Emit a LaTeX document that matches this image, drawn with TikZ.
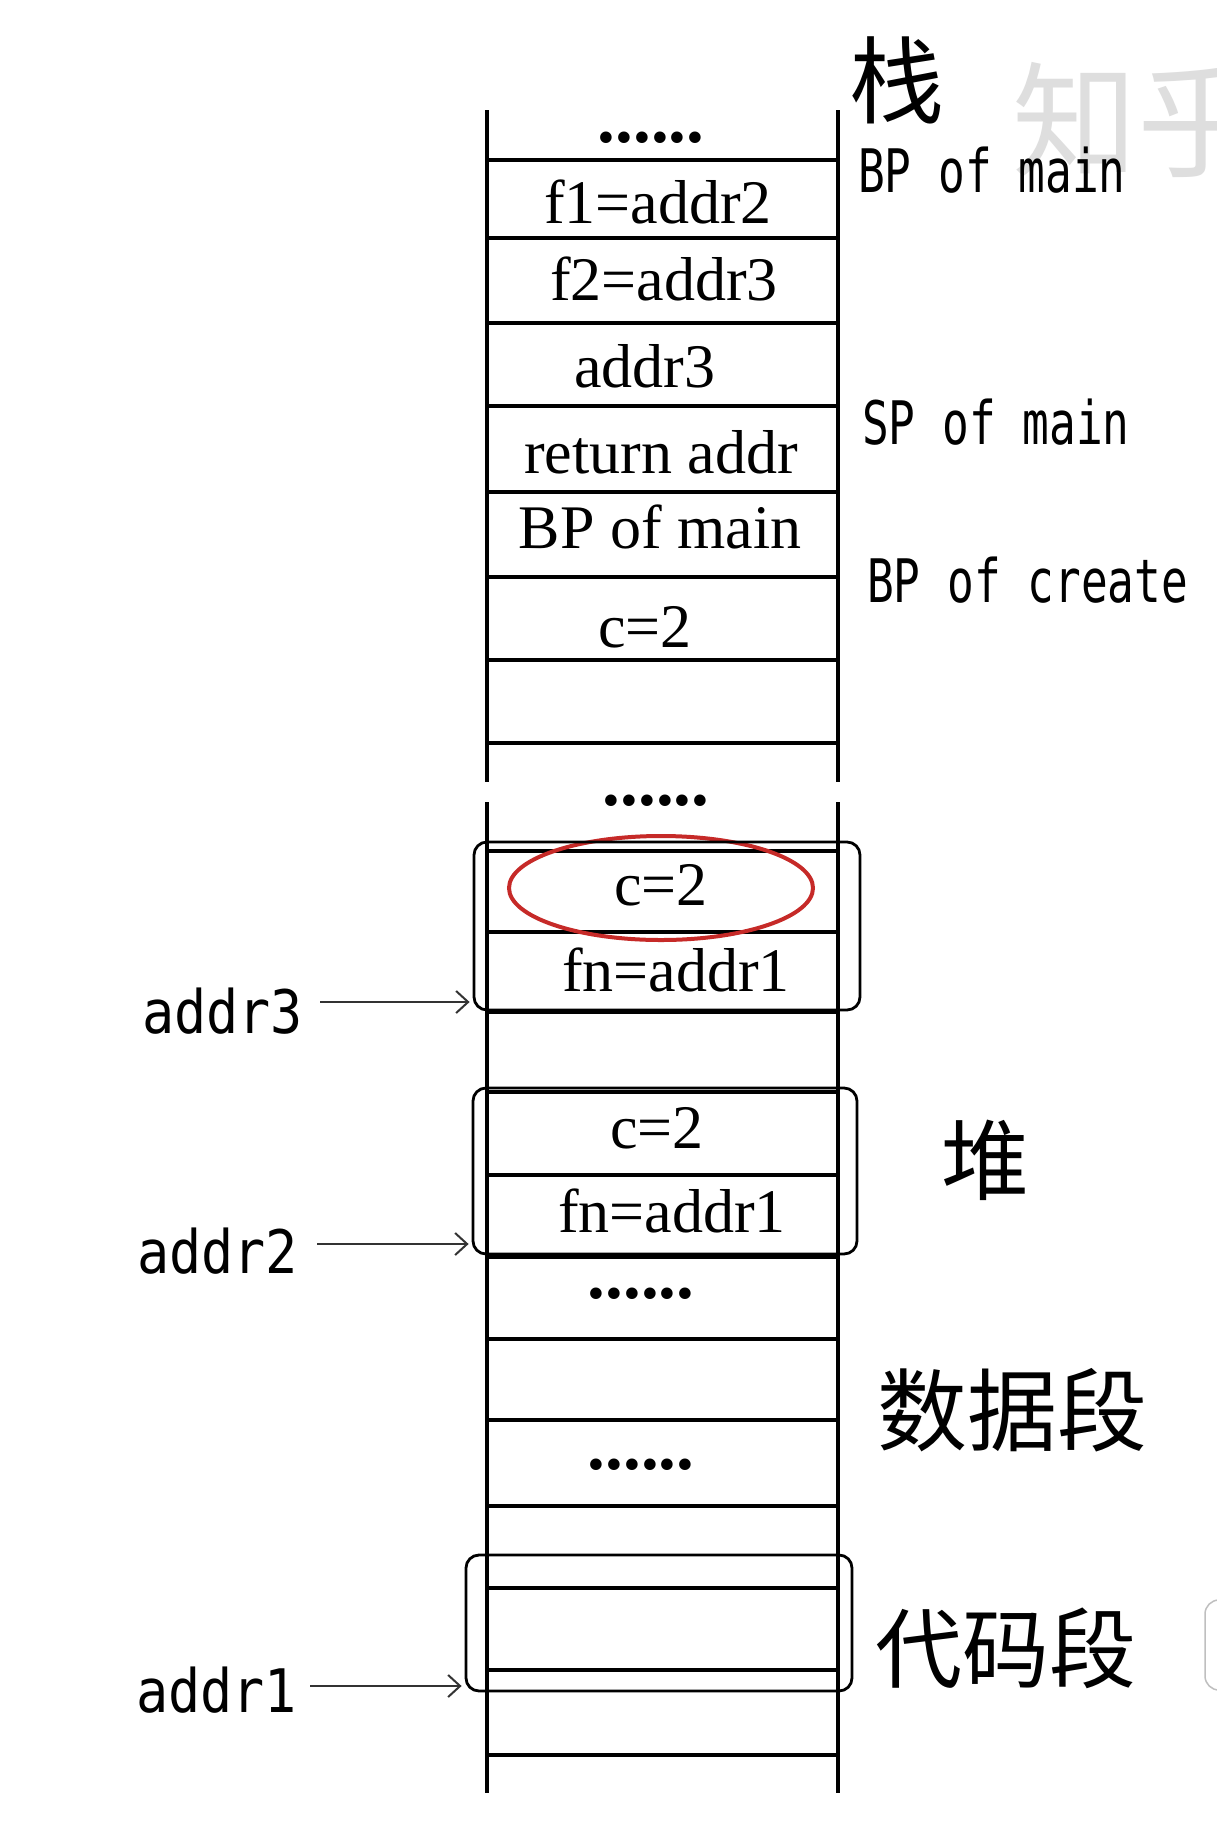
\documentclass[tikz,border=0pt]{standalone}
\usepackage{fontspec}
\setmainfont{Liberation Serif}
\newfontfamily\handR[FakeStretch=0.74]{DejaVu Sans Mono}
\newfontfamily\handL[FakeStretch=0.89]{DejaVu Sans Mono}
\newfontfamily\cjk{Noto Sans CJK SC}
\usetikzlibrary{shapes.geometric,arrows.meta}
\definecolor{hlred}{RGB}{198,42,40}
\begin{document}
\begin{tikzpicture}[x=1pt,y=-1pt,
  cell/.style={anchor=base,inner sep=0,font=\fontsize{62}{70}\selectfont},
  dotrow/.style={anchor=base,inner sep=0,font=\bfseries\fontsize{71}{75}\selectfont},
  rlab/.style={anchor=base west,inner sep=0,font=\handR\fontsize{60}{64}\selectfont},
  llab/.style={anchor=base west,inner sep=0,font=\handL\fontsize{60}{64}\selectfont},
  seg/.style={inner sep=0,font=\cjk\fontsize{#1}{#1}\selectfont},
  rowline/.style={line width=4.5pt},
  colline/.style={line width=3.6pt},
  hbox/.style={draw,line width=2.8pt,rounded corners=13pt,inner sep=0},
  arr/.style={line width=2pt,draw=black!80,shorten >=3pt,
    -{Straight Barb[length=12pt,width=22pt,line width=2pt]}},
  ]
\useasboundingbox (0,0) rectangle (1216,1826);
\fill[white] (0,0) rectangle (1216,1826);

% watermark
\node[seg=125,anchor=west,text=black!13] (wm) at (1012,120) {知乎};
% UI remnant at right edge
\draw[black!25,line width=1.5pt,rounded corners=14pt] (1205,1600) rectangle (1260,1690);

% column verticals
\draw[colline] (487,110) -- (487,782);
\draw[colline] (838,110) -- (838,782);
\draw[colline] (487,802) -- (487,1793);
\draw[colline] (838,802) -- (838,1793);

% row lines
\foreach \yy in {160,238,323,406,492,577,660,743,851,932,1012,1092,1175,1257,1339,1420,1506,1588,1670,1755}
  \draw[rowline] (487,\yy) -- (838,\yy);

% cell texts
\node[dotrow] (d1) at (651,142) {......};
\node[cell] (c1) at (658,223) {f1=addr2};
\node[cell] (c2) at (664,300) {f2=addr3};
\node[cell] (c3) at (645,387) {addr3};
\node[cell] (c4) at (661,473) {return addr};
\node[cell] (c5) at (660,548) {BP of main};
\node[cell] (c6) at (645,647) {c=2};
\node[dotrow] (d2) at (656,805) {......};
\node[cell] (c7) at (661,905) {c=2};
\node[cell] (c8) at (676,991) {fn=addr1};
\node[cell] (c9) at (657,1148) {c=2};
\node[cell] (c10) at (672,1232) {fn=addr1};
\node[dotrow] (d3) at (641,1298) {......};
\node[dotrow] (d4) at (641,1469) {......};

% highlight ellipse
\node[ellipse,draw=hlred,line width=4pt,minimum width=304pt,minimum height=104pt,inner sep=0] (hl) at (661,888) {};

% grouping boxes
\node[hbox,minimum width=386pt,minimum height=168pt] (box1) at (667,926) {};
\node[hbox,minimum width=384pt,minimum height=166pt] (box2) at (665,1171) {};
\node[hbox,minimum width=386pt,minimum height=136pt] (box3) at (659,1623) {};

% right labels
\node[seg=95] (zhan) at (897,80) {栈};
\node[rlab] (r1) at (858,192) {BP of main};
\node[rlab] (r2) at (862,444) {SP of main};
\node[rlab] (r3) at (867,602) {BP of create};
\node[seg=88] (dui) at (985,1160) {堆};
\node[seg=90] (data) at (1012,1410) {数据段};
\node[seg=87] (code) at (1006,1648) {代码段};

% left labels and arrows
\node[llab] (l3) at (142,1033) {addr3};
\node[llab] (l2) at (137,1273) {addr2};
\node[llab] (l1) at (136,1712) {addr1};
\coordinate (a3) at (320,1002);
\coordinate (a2) at (317,1244);
\coordinate (a1) at (310,1686);
\draw[arr] (a3) -- (box1.west |- a3);
\draw[arr] (a2) -- (box2.west |- a2);
\draw[arr] (a1) -- (box3.west |- a1);
\end{tikzpicture}
\end{document}
